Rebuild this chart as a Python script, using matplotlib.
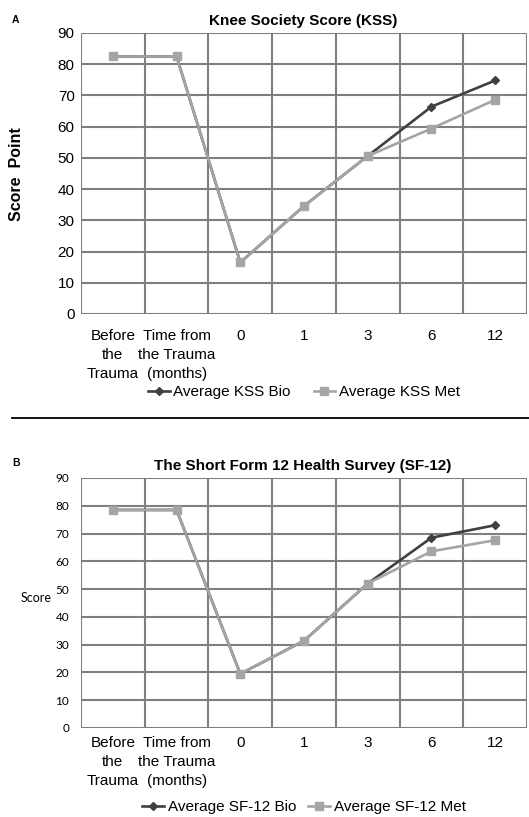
import matplotlib
matplotlib.use("Agg")
import matplotlib.pyplot as plt
from matplotlib.lines import Line2D

plt.rcParams['font.family'] = ['Liberation Sans', 'DejaVu Sans']

categories = ["Before\nthe\nTrauma", "Time from\nthe Trauma\n(months)", "0", "1", "3", "6", "12"]
kss_bio = [82.5, 82.5, 16.5, 34.6, 50.6, 66.4, 74.8]
kss_met = [82.5, 82.5, 16.5, 34.6, 50.6, 59.4, 68.6]
sf_bio = [78.5, 78.5, 19.5, 31.4, 52.0, 68.5, 73.0]
sf_met = [78.5, 78.5, 19.5, 31.4, 52.0, 63.6, 67.6]
yticks = [0, 10, 20, 30, 40, 50, 60, 70, 80, 90]

W, H = 529, 817
fig = plt.figure(figsize=(W / 100, H / 100), dpi=100)

BIO_C = "#404040"
MET_C = "#a5a5a5"
GRID_C = "#7f7f7f"


def fx(px):
    return px / W


def fy(py):
    return 1 - py / H


def make_panel(rect, bio, met, title, bio_lab, met_lab, ytick_size, ytick_family, ypad, xpad,
               legend_y, title_y, colspace):
    ax = fig.add_axes(rect)
    x = list(range(len(categories)))
    ax.set_xlim(-0.5, len(categories) - 0.5)
    ax.set_ylim(0, 90)
    ax.set_yticks(yticks)
    ax.set_xticks(x)
    ax.set_xticklabels(categories, fontsize=11, linespacing=1.42, va='top')
    for lab in ax.get_yticklabels():
        lab.set_fontsize(ytick_size)
        lab.set_family(ytick_family)
    ax.tick_params(axis='x', length=0, pad=xpad)
    ax.tick_params(axis='y', length=0, pad=ypad)
    for y in yticks:
        ax.axhline(y, color=GRID_C, lw=1.5, zorder=1)
    for b in range(len(categories) + 1):
        ax.axvline(b - 0.5, color=GRID_C, lw=1.5, zorder=1)
    for s in ax.spines.values():
        s.set_visible(False)
    l1, = ax.plot(x, bio, color=BIO_C, lw=1.9, marker='D', ms=4.5, zorder=3, label=bio_lab)
    l2, = ax.plot(x, met, color=MET_C, lw=1.9, marker='s', ms=5.5, zorder=4, label=met_lab)
    fig.text(fx(303), fy(title_y), title, fontsize=11, fontweight='bold', ha='center', va='center')
    fig.legend(handles=[l1, l2], loc='center', bbox_to_anchor=(fx(304), fy(legend_y)), ncol=2,
               frameon=False, fontsize=11, handlelength=1.4, columnspacing=colspace,
               handletextpad=0.25, borderpad=0, borderaxespad=0)
    return ax


ax1 = make_panel([fx(81), fy(314), fx(527) - fx(81), fy(33) - fy(314)], kss_bio, kss_met,
                 "Knee Society Score (KSS)", "Average KSS Bio", "Average KSS Met",
                 11, ['Liberation Sans'], 4.5, 11, 392, 21, 1.5)
fig.text(fx(17), fy(174), "Score  Point", rotation=90, fontsize=11.5, fontweight='bold',
         ha='center', va='center')
fig.text(fx(12), fy(20), "A", fontsize=7.5, fontweight='bold', ha='left', va='center')

ax2 = make_panel([fx(81), fy(728), fx(527) - fx(81), fy(478) - fy(728)], sf_bio, sf_met,
                 "The Short Form 12 Health Survey (SF-12)", "Average SF-12 Bio", "Average SF-12 Met",
                 8.5, ['Lato', 'DejaVu Sans'], 8.5, 6, 807, 466, 0.8)
fig.text(fx(21), fy(598), "Score", fontsize=9, family=['Lato', 'DejaVu Sans'], ha='left', va='center')
fig.text(fx(12), fy(463), "B", fontsize=7.5, fontweight='bold', ha='left', va='center')

fig.add_artist(Line2D([fx(12), 1.0], [fy(418), fy(418)], color='black', lw=1.3,
                      transform=fig.transFigure))

fig.savefig("out.png", dpi=100, facecolor='white')
